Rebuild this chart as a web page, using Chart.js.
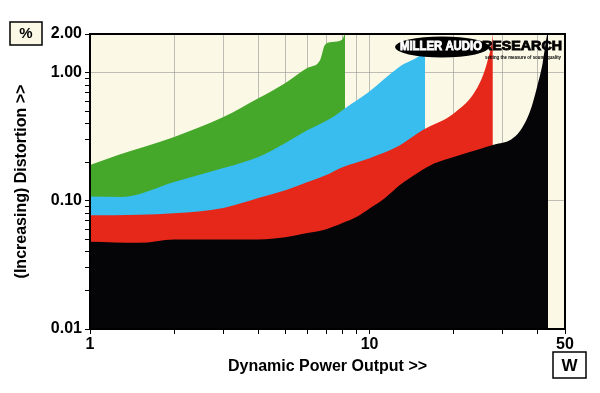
<!DOCTYPE html>
<html>
<head>
<meta charset="utf-8">
<script src="https://cdn.jsdelivr.net/npm/chart.js@4"></script>
<style>
html, body { margin: 0; padding: 0; background: #fff; }
</style>
</head>
<body>
<canvas id="distChart" width="600" height="393"></canvas>
<script>
// 측정 곡선 (x = W, y = %)
const blackW   = [1, 1.5, 2, 3, 4, 5, 6, 7, 8, 9, 10, 11.3, 12.8, 15, 17, 20, 25, 28, 32, 34.5, 37.5, 39.7, 41.6, 43, 43.5];
const blackPct = [0.048, 0.047, 0.050, 0.050, 0.050, 0.052, 0.056, 0.060, 0.067, 0.075, 0.087, 0.104, 0.132, 0.167, 0.195, 0.22, 0.255, 0.275, 0.30, 0.35, 0.5, 0.77, 1.19, 1.9, 2.1];

const redW   = [1, 1.5, 2, 3, 4, 5, 6, 7, 8, 10, 12.8, 15.5, 20, 24, 26.3, 27.5, 27.6];
const redPct = [0.077, 0.078, 0.080, 0.088, 0.105, 0.121, 0.14, 0.159, 0.183, 0.215, 0.27, 0.356, 0.48, 0.73, 1.19, 1.9, 2.1];

const blueW   = [1, 1.3, 2, 3, 4, 5, 6, 7.3, 8.2, 9.8, 12.8, 15.5, 15.8];
const bluePct = [0.108, 0.107, 0.14, 0.18, 0.22, 0.283, 0.356, 0.443, 0.53, 0.69, 1.11, 1.42, 1.5];

const greenW   = [1, 1.26, 2, 3, 4, 5, 6, 6.65, 6.92, 7.34, 7.97, 8.1, 8.17];
const greenPct = [0.19, 0.228, 0.315, 0.45, 0.63, 0.83, 1.09, 1.25, 1.64, 1.73, 1.80, 1.95, 2.1];

// 축 눈금
const xTickValues = [1, 2, 3, 4, 5, 6, 7, 8, 9, 10, 20, 30, 40, 50];
const xTickLabels = [1, 10, 50];
const yTickValues = [0.01, 0.02, 0.03, 0.04, 0.05, 0.06, 0.07, 0.08, 0.09,
                     0.1, 0.2, 0.3, 0.4, 0.5, 0.6, 0.7, 0.8, 0.9, 1, 2];
const yTickLabels = { 2: '2.00', 1: '1.00', 0.1: '0.10', 0.01: '0.01' };
const yGridValues = [1, 0.1];

const FONT = 'Liberation Sans, Arial, sans-serif';
const gridColor = 'rgba(140, 140, 140, 0.55)';

function toPoints(xs, ys) {
    return xs.map((x, i) => ({ x: x, y: ys[i] }));
}

function area(pointsX, pointsY, color) {
    return {
        data: toPoints(pointsX, pointsY),
        backgroundColor: color,
        borderWidth: 0,
        pointRadius: 0,
        fill: 'start',
        cubicInterpolationMode: 'monotone'
    };
}

// 배경, 테두리, 로고, 단위 상자
const decorPlugin = {
    id: 'decor',
    beforeDraw(chart) {
        const { ctx, chartArea: a } = chart;
        ctx.save();
        ctx.fillStyle = '#fbf8e6';
        ctx.fillRect(a.left, a.top, a.right - a.left, a.bottom - a.top);
        ctx.restore();
    },
    afterDraw(chart) {
        const { ctx, chartArea: a } = chart;
        ctx.save();
        ctx.strokeStyle = '#000';
        ctx.lineWidth = 2;
        ctx.strokeRect(a.left, a.top, a.right - a.left, a.bottom - a.top);

        // 로고
        ctx.fillStyle = '#000';
        ctx.beginPath();
        ctx.ellipse(442, 47, 47, 10.5, 0, 0, Math.PI * 2);
        ctx.fill();
        ctx.textBaseline = 'middle';
        ctx.textAlign = 'left';
        ctx.font = 'bold 12px ' + FONT;
        ctx.lineWidth = 0.8;
        let w = ctx.measureText('MILLER AUDIO').width;
        ctx.save();
        ctx.translate(400, 47);
        ctx.scale(82 / w, 1);
        ctx.fillStyle = '#fff';
        ctx.strokeStyle = '#fff';
        ctx.fillText('MILLER AUDIO', 0, 0);
        ctx.strokeText('MILLER AUDIO', 0, 0);
        ctx.restore();
        w = ctx.measureText('RESEARCH').width;
        ctx.save();
        ctx.translate(482, 47);
        ctx.scale(80 / w, 1);
        ctx.fillStyle = '#000';
        ctx.strokeStyle = '#000';
        ctx.fillText('RESEARCH', 0, 0);
        ctx.strokeText('RESEARCH', 0, 0);
        ctx.restore();
        ctx.font = 'bold 6px ' + FONT;
        ctx.fillStyle = '#000';
        ctx.fillText('setting the measure of sound quality', 485, 57, 76);

        // 단위 상자
        ctx.lineWidth = 1.5;
        ctx.strokeStyle = '#000';
        ctx.fillStyle = '#fbf8e6';
        ctx.fillRect(10, 22, 32, 23);
        ctx.strokeRect(10, 22, 32, 23);
        ctx.fillStyle = '#fff';
        ctx.fillRect(553, 352, 33, 26);
        ctx.strokeRect(553, 352, 33, 26);
        ctx.fillStyle = '#000';
        ctx.textAlign = 'center';
        ctx.font = 'bold 15px ' + FONT;
        ctx.fillText('%', 26, 34);
        ctx.font = 'bold 17px ' + FONT;
        ctx.fillText('W', 569.5, 366);
        ctx.restore();
    }
};

const ctx = document.getElementById('distChart').getContext('2d');
const distChart = new Chart(ctx, {
    type: 'line',
    data: {
        datasets: [
            area(blackW, blackPct, '#050508'),
            area(redW, redPct, '#e5281a'),
            area(blueW, bluePct, '#38bdee'),
            area(greenW, greenPct, '#45a82a')
        ]
    },
    options: {
        responsive: false,
        animation: false,
        layout: { padding: { left: 0, right: 35, top: 34, bottom: 14 } },
        plugins: {
            legend: { display: false },
            tooltip: { enabled: false }
        },
        scales: {
            x: {
                type: 'logarithmic',
                min: 1,
                max: 50,
                z: 1,
                afterBuildTicks: s => { s.ticks = xTickValues.map(v => ({ value: v })); },
                afterFit: s => { s.height = 50; },
                ticks: {
                    autoSkip: false,
                    maxRotation: 0,
                    padding: 1,
                    color: '#000',
                    font: { family: FONT, weight: 'bold', size: 16 },
                    callback: v => xTickLabels.includes(v) ? String(v) : ''
                },
                grid: { color: gridColor, tickColor: '#000', tickLength: 5 },
                border: { color: '#000', width: 2 },
                title: {
                    display: true,
                    text: 'Dynamic Power Output >>',
                    color: '#000',
                    font: { family: FONT, weight: 'bold', size: 16 },
                    padding: { top: 0, bottom: 3 }
                }
            },
            y: {
                type: 'logarithmic',
                min: 0.01,
                max: 2,
                z: 1,
                afterBuildTicks: s => { s.ticks = yTickValues.map(v => ({ value: v })); },
                afterFit: s => { s.width = 90; },
                ticks: {
                    autoSkip: false,
                    padding: 3,
                    color: '#000',
                    font: { family: FONT, weight: 'bold', size: 16 },
                    callback: v => yTickLabels[v] || ''
                },
                grid: {
                    color: c => (c.tick && yGridValues.includes(c.tick.value)) ? gridColor : 'rgba(0,0,0,0)',
                    tickColor: '#000',
                    tickLength: 5
                },
                border: { color: '#000', width: 2 },
                title: {
                    display: true,
                    text: '(Increasing) Distortion >>',
                    color: '#000',
                    font: { family: FONT, weight: 'bold', size: 16 },
                    padding: { top: 12, bottom: 0 }
                }
            }
        }
    },
    plugins: [decorPlugin]
});
</script>
</body>
</html>
